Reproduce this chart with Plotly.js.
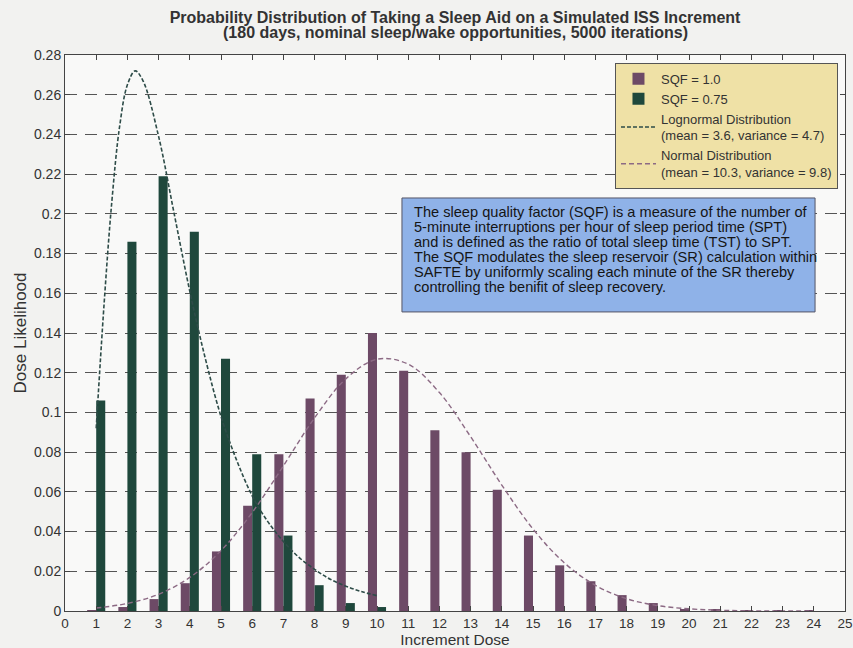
<!DOCTYPE html>
<html>
<head>
<meta charset="utf-8">
<script src="https://cdn.plot.ly/plotly-3.0.1.min.js"></script>
<style>html,body{margin:0;padding:0;background:#f2f2f0;}#chart{width:853px;height:648px;}</style>
</head>
<body>
<div id="chart"></div>
<script>
// Categories (increment dose)
var doses = [1,2,3,4,5,6,7,8,9,10,11,12,13,14,15,16,17,18,19,20,21,22,23,24];
// Bar heights
var sqf100 = [0.0005,0.002,0.006,0.014,0.030,0.053,0.079,0.107,0.119,0.140,0.121,0.091,0.080,0.061,0.038,0.023,0.015,0.008,0.004,0.001,0.0006,0.0004,0.0003,0.0003];
var sqf075 = [0.106,0.186,0.219,0.191,0.127,0.079,0.038,0.013,0.004,0.002,0,0,0,0,0,0,0,0,0,0,0,0,0,0];
// Fitted curves
var logX = [1,1.25,1.5,1.75,2,2.25,2.5,3,3.5,4,4.5,5,5.5,6,6.5,7,7.5,8,8.5,9,9.5,10];
var logY = [0.092,0.154,0.206,0.244,0.265,0.272,0.267,0.239,0.200,0.161,0.127,0.098,0.076,0.058,0.045,0.035,0.027,0.021,0.016,0.0125,0.0098,0.0077];
var normX = [1,2,3,4,5,6,7,8,9,10,11,12,13,14,15,16,17,18,19,20,21,22,23,24];
var normY = [0.0015,0.0038,0.0084,0.0169,0.0304,0.0496,0.0731,0.0973,0.1169,0.1268,0.1243,0.110,0.0878,0.0634,0.0413,0.0243,0.0129,0.0062,0.0027,0.0011,0.0004,0.0001,0.00003,0.00001];
// Tick labels
var yTickVals = [0,0.02,0.04,0.06,0.08,0.1,0.12,0.14,0.16,0.18,0.2,0.22,0.24,0.26,0.28];
var yTickText = ["0","0.02","0.04","0.06","0.08","0.1","0.12","0.14","0.16","0.18","0.2","0.22","0.24","0.26","0.28"];
var xTickVals = [0,1,2,3,4,5,6,7,8,9,10,11,12,13,14,15,16,17,18,19,20,21,22,23,24,25];

var titleLine1 = "Probability Distribution of Taking a Sleep Aid on a Simulated ISS Increment";
var titleLine2 = "(180 days, nominal sleep/wake opportunities, 5000 iterations)";
var names = ["SQF = 1.0","SQF = 0.75","Lognormal Distribution<br>(mean = 3.6, variance = 4.7)","Normal Distribution<br>(mean = 10.3, variance = 9.8)"];
var noteLines = [
  "The sleep quality factor (SQF) is a measure of the number of",
  "5-minute interruptions per hour of sleep period time (SPT)",
  "and is defined as the ratio of total sleep time (TST) to SPT.",
  "The SQF modulates the sleep reservoir (SR) calculation within",
  "SAFTE by uniformly scaling each minute of the SR thereby",
  "controlling the benifit of sleep recovery."
];

var traces = [
  {type:'bar', x:doses, y:sqf100, name:names[0], marker:{color:'#6d4a66'}},
  {type:'bar', x:doses, y:sqf075, name:names[1], marker:{color:'#1f483c'}},
  {type:'scatter', mode:'lines', x:logX, y:logY, name:names[2], line:{color:'#2e4c48', width:1.6, dash:'4px,2px', shape:'spline'}},
  {type:'scatter', mode:'lines', x:normX, y:normY, name:names[3], line:{color:'#8c6a84', width:1.4, dash:'5px,3px', shape:'spline'}}
];

var font = "Arial, 'Liberation Sans', sans-serif";

// Text box (annotation) layout
var boxX0 = 10.8, boxX1 = 24.04, boxY0 = 0.1506, boxY1 = 0.208;
var lineX = 11.12, lineY0 = 0.2009, lineStep = 0.00755;
var annotations = noteLines.map(function(t, i){
  return {xref:'x', yref:'y', x:lineX, y:lineY0 - i*lineStep, xanchor:'left', yanchor:'middle', showarrow:false,
          text:t, font:{size:14.6, color:'#151515'}};
});
annotations.push({xref:'paper', yref:'paper', x:0.5, y:1.0396, xanchor:'center', yanchor:'middle', showarrow:false,
                  text:'<b>' + titleLine2 + '</b>', font:{family:font, size:16, color:'#333'}});

var layout = {
  width:853, height:648,
  margin:{l:65, r:8, t:55, b:37},
  paper_bgcolor:'#f2f2f0',
  plot_bgcolor:'#f9f9f8',
  font:{family:font, size:14, color:'#333'},
  barmode:'group', bargap:0.42, bargroupgap:0,
  title:{text:'<b>' + titleLine1 + '</b>', font:{family:font, size:16, color:'#333'},
         xref:'paper', x:0.5, xanchor:'center', yref:'container', y:0.9738, yanchor:'middle'},
  xaxis:{range:[0,25], tickvals:xTickVals, ticks:'inside', ticklen:5, tickcolor:'#444', showline:true, linecolor:'#444', mirror:'ticks', showgrid:false, zeroline:false,
         tickfont:{size:13.5, color:'#333'}, title:{text:'Increment Dose', font:{size:15.5, color:'#333'}, standoff:2}},
  yaxis:{range:[0,0.28], tickvals:yTickVals, ticktext:yTickText, ticks:'inside', ticklen:5, tickcolor:'#444', showline:true, linecolor:'#444', mirror:'ticks',
         showgrid:true, gridcolor:'#555', griddash:'12px,8px', gridwidth:1.2, zeroline:false,
         tickfont:{size:14, color:'#333'}, title:{text:'Dose Likelihood', font:{size:17, color:'#333'}, standoff:3}},
  legend:{x:0.991, xanchor:'right', y:0.986, yanchor:'top', bgcolor:'#efe1a6', bordercolor:'#555', borderwidth:1,
          font:{size:13, color:'#333'}, tracegroupgap:0, itemwidth:35},
  shapes:[{type:'rect', xref:'x', yref:'y', x0:boxX0, x1:boxX1, y0:boxY0, y1:boxY1, fillcolor:'#8fb2e8', line:{color:'#556', width:1}, layer:'above'}],
  annotations:annotations
};
Plotly.newPlot('chart', traces, layout, {displayModeBar:false});
</script>
</body>
</html>
